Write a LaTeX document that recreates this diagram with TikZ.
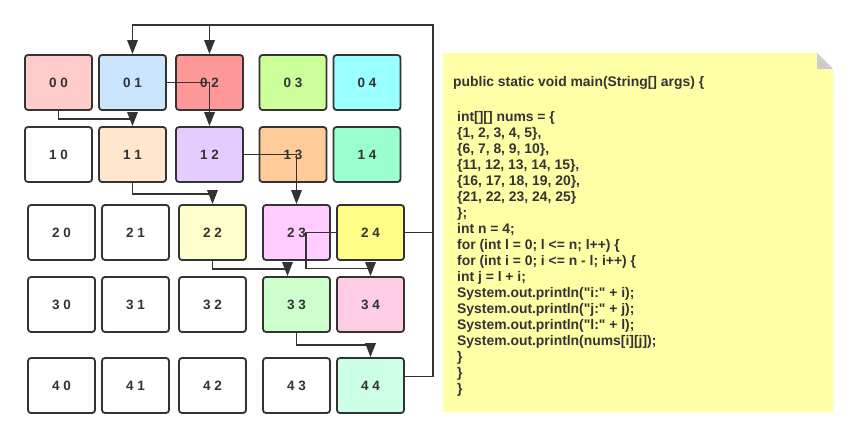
\documentclass[tikz,border=0pt]{standalone}
\usepackage{fontspec}
\setmainfont{Liberation Sans}
\newfontfamily\codefont{Liberation Sans}[Ligatures=TeXOff]
\usetikzlibrary{arrows.meta}
\definecolor{linie}{HTML}{333333}
\definecolor{c00}{HTML}{FFCCCC}
\definecolor{c01}{HTML}{CCE5FF}
\definecolor{c02}{HTML}{FF9999}
\definecolor{c03}{HTML}{CCFF99}
\definecolor{c04}{HTML}{99FFFF}
\definecolor{c11}{HTML}{FFE6CC}
\definecolor{c12}{HTML}{E5CCFF}
\definecolor{c13}{HTML}{FFCC99}
\definecolor{c14}{HTML}{99FFCC}
\definecolor{c22}{HTML}{FFFFCC}
\definecolor{c23}{HTML}{FFCCFF}
\definecolor{c24}{HTML}{FFFF88}
\definecolor{c33}{HTML}{CCFFCC}
\definecolor{c34}{HTML}{FFCCE6}
\definecolor{c44}{HTML}{CCFFE6}
\definecolor{notizgelb}{HTML}{FFFFA6}
\definecolor{faltegrau}{HTML}{CCCCCC}
\begin{document}
\begin{tikzpicture}[x=1pt, y=-1pt, >={Triangle[length=14pt,width=10.5pt]},
  feld/.style={draw=linie, line width=1.8pt, rounded corners=3pt, fill=#1,
  minimum width=67pt, minimum height=55pt, inner sep=0pt, text=linie,
  font=\fontsize{13.5}{16}\selectfont\bfseries},
  feld/.default=white,
  pfeil/.style={draw=linie, line width=1.6pt, ->},
  code/.style={inner sep=0pt, text=linie, font=\codefont\fontsize{13.9}{16}\selectfont\bfseries}]
   \useasboundingbox (0,0) rectangle (858,438);

%Felder Zeile 0 und 1
\node[feld=c00] (f00) at (58.5,82.5) {0 0};
\node[feld=c01] (f01) at (132.5,82.5) {0 1};
\node[feld=c02] (f02) at (209.5,82.5) {0 2};
\node[feld=c03] (f03) at (293,82.5) {0 3};
\node[feld=c04] (f04) at (367,82.5) {0 4};

\node[feld] (f10) at (58.5,154.5) {1 0};
\node[feld=c11] (f11) at (132.5,154.5) {1 1};
\node[feld=c12] (f12) at (209.5,154.5) {1 2};
\node[feld=c13] (f13) at (293,154.5) {1 3};
\node[feld=c14] (f14) at (367,154.5) {1 4};

%Felder Zeile 2 bis 4
\node[feld] (f20) at (61.5,232.5) {2 0};
\node[feld] (f21) at (135.5,232.5) {2 1};
\node[feld=c22] (f22) at (212.5,232.5) {2 2};
\node[feld=c23] (f23) at (296.5,232.5) {2 3};
\node[feld=c24] (f24) at (370.5,232.5) {2 4};

\node[feld] (f30) at (61.5,304.5) {3 0};
\node[feld] (f31) at (135.5,304.5) {3 1};
\node[feld] (f32) at (212.5,304.5) {3 2};
\node[feld=c33] (f33) at (296.5,304.5) {3 3};
\node[feld=c34] (f34) at (370.5,304.5) {3 4};

\node[feld] (f40) at (61.5,385.5) {4 0};
\node[feld] (f41) at (135.5,385.5) {4 1};
\node[feld] (f42) at (212.5,385.5) {4 2};
\node[feld] (f43) at (296.5,385.5) {4 3};
\node[feld=c44] (f44) at (370.5,385.5) {4 4};

\coordinate(oben) at (433,25);

%Pfeile
\draw[pfeil] (f00.south) -- ++(0,8) -| (f11.north);
\draw[pfeil] (f01.east) -| (f12.north);
\draw[pfeil] (f11.south) -- ++(0,11) -| (f22.north);
\draw[pfeil] (f12.east) -| (f23.north);
\draw[pfeil] (f22.south) -- ++(0,8) -| ([xshift=-9pt]f33.north);
\draw[pfeil] (f24.west) -- ++(-30,0) -- ++(0,36) -| (f34.north);
\draw[pfeil] (f33.south) -- ++(0,12) -| (f44.north);
\draw[pfeil] ([yshift=9pt]f44.east) -| (oben) -| (f01.north);
\draw[pfeil] (f24.east) -| (oben) -| (f02.north);

%Notiz
\fill[notizgelb] (443,53) -- (817,53) -- (833,69) -- (833,412) -- (443,412) -- cycle;
\fill[faltegrau] (817,53) -- (833,69) -- (817,69) -- cycle;

\node[code, anchor=base west] (kopf) at (453,87) {public static void main(String[] args) \{};
\node[code, anchor=north west, align=left] (rumpf) at (457,111) {int[][] nums = \{\\
\{1, 2, 3, 4, 5\},\\
\{6, 7, 8, 9, 10\},\\
\{11, 12, 13, 14, 15\},\\
\{16, 17, 18, 19, 20\},\\
\{21, 22, 23, 24, 25\}\\
\};\\
int n = 4;\\
for (int l = 0; l <= n; l++) \{\\
for (int i = 0; i <= n - l; i++) \{\\
int j = l + i;\\
System.out.println("i:" + i);\\
System.out.println("j:" + j);\\
System.out.println("l:" + l);\\
System.out.println(nums[i][j]);\\
\}\\
\}\\
\}};
\end{tikzpicture}
\end{document}
